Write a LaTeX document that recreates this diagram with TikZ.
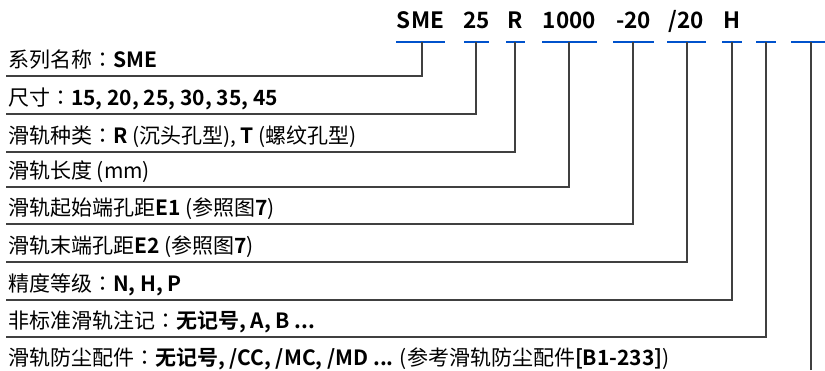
\documentclass[tikz,border=0pt]{standalone}
\usepackage{fontspec}
\setmainfont{Noto Sans CJK SC}[BoldFont={Noto Sans CJK SC Bold}]
\newfontfamily\tcfont{Noto Sans CJK TC}
\newcommand\zcolon{{\tcfont ：}}
\begin{document}
\begin{tikzpicture}[x=1pt,y=-1pt,
  txt/.style={anchor=base west,inner sep=0pt,font=\fontsize{21}{24}\selectfont,text=black},
  hdr/.style={anchor=base,inner sep=0pt,font=\fontsize{22.5}{24}\selectfont\bfseries,text=black},
  seg/.style={draw=blue!60!cyan!80!black,line width=2.2pt},
  lead/.style={draw=black!75,line width=1.1pt}]
\useasboundingbox (0,0) rectangle (825,370);
% header
\node[hdr] (h1) at (420.5,28) {SME};
\node[hdr] (h2) at (476.5,28) {25};
\node[hdr] (h3) at (515.5,28) {R};
\node[hdr] (h4) at (569.5,28) {1000};
\node[hdr] (h5) at (633.5,28) {-20};
\node[hdr] (h6) at (686.5,28) {/20};
\node[hdr] (h7) at (732,28) {H};
% blue segments
\coordinate (s1a) at (396,42); \coordinate (s1b) at (445,42);
\coordinate (s2a) at (464,42); \coordinate (s2b) at (489,42);
\coordinate (s3a) at (506,42); \coordinate (s3b) at (525,42);
\coordinate (s4a) at (542,42); \coordinate (s4b) at (597,42);
\coordinate (s5a) at (613,42); \coordinate (s5b) at (654,42);
\coordinate (s6a) at (667,42); \coordinate (s6b) at (706,42);
\coordinate (s7a) at (722,42); \coordinate (s7b) at (742,42);
\coordinate (s8a) at (756,42); \coordinate (s8b) at (776,42);
\coordinate (s9a) at (791,42); \coordinate (s9b) at (825,42);
\foreach \i in {1,...,9} {\draw[seg] (s\i a) -- (s\i b);}
% labels
\node[txt] (t1) at (8,67) {系列名称\zcolon\textbf{SME}};
\node[txt] (t2) at (8,105) {尺寸\zcolon\textbf{15, 20, 25, 30, 35, 45}};
\node[txt] (t3) at (8,143) {滑轨种类\zcolon\textbf{R} (沉头孔型), \textbf{T} (螺纹孔型)};
\node[txt] (t4) at (8,178) {滑轨长度 (mm)};
\node[txt] (t5) at (8,215) {滑轨起始端孔距\textbf{E1} (参照图\textbf{7})};
\node[txt] (t6) at (8,253) {滑轨末端孔距\textbf{E2} (参照图\textbf{7})};
\node[txt] (t7) at (8,291) {精度等级\zcolon\textbf{N, H, P}};
\node[txt] (t8) at (8,328) {非标准滑轨注记\zcolon\textbf{无记号, A, B ...}};
\node[txt] (t9) at (8,365) {滑轨防尘配件\zcolon\textbf{无记号, /CC, /MC, /MD ...} (参考滑轨防尘配件\textbf{[B1-233]})};
% leader corners
\coordinate (c1) at (422,76);
\coordinate (c2) at (476,114);
\coordinate (c3) at (515,152);
\coordinate (c4) at (569,187);
\coordinate (c5) at (633,224);
\coordinate (c6) at (687,262);
\coordinate (c7) at (732,300);
\coordinate (c8) at (766,337);
\foreach \i in {1,...,8} {
  \draw[lead] (6,0 |- c\i) -- (c\i) -- (c\i |- 0,42);
}
\coordinate (c9) at (811,370);
\draw[lead] (c9) -- (c9 |- 0,42);
\end{tikzpicture}
\end{document}
